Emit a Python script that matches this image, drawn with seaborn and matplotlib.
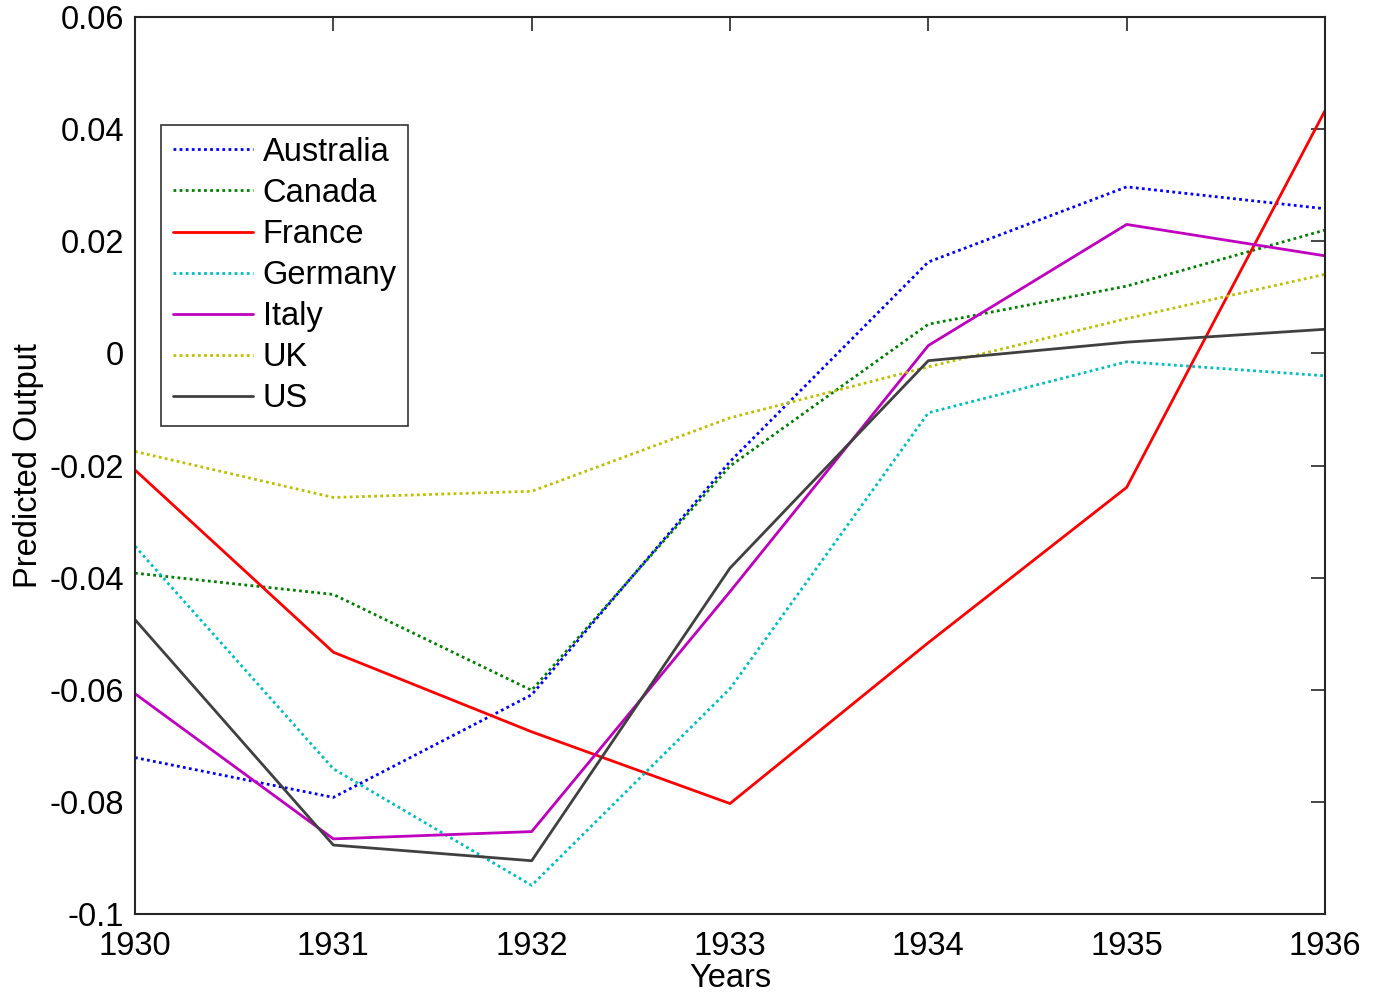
import matplotlib
matplotlib.use("Agg")
import matplotlib.pyplot as plt
import seaborn as sns
import pandas as pd

years = [1930, 1931, 1932, 1933, 1934, 1935, 1936]
australia = [-0.0721, -0.0792, -0.0609, -0.0193, 0.0163, 0.0297, 0.0258]
canada = [-0.0392, -0.0430, -0.0601, -0.0201, 0.0052, 0.0120, 0.0220]
france = [-0.0208, -0.0533, -0.0675, -0.0803, -0.0516, -0.0239, 0.0433]
germany = [-0.0344, -0.0741, -0.0949, -0.0598, -0.0106, -0.0015, -0.0040]
italy = [-0.0607, -0.0866, -0.0853, -0.0425, 0.0014, 0.0230, 0.0174]
uk = [-0.0175, -0.0257, -0.0246, -0.0115, -0.0024, 0.0062, 0.0141]
us = [-0.0475, -0.0877, -0.0905, -0.0383, -0.0013, 0.0020, 0.0043]

countries = ["Australia", "Canada", "France", "Germany", "Italy", "UK", "US"]
series = [australia, canada, france, germany, italy, uk, us]
colors = ["#0000ff", "#008000", "#ff0000", "#00bfbf", "#bf00bf", "#bfbf00", "#404040"]
dotted = [True, True, False, True, False, True, False]

ytick_vals = [0.06, 0.04, 0.02, 0, -0.02, -0.04, -0.06, -0.08, -0.1]
ytick_labels = ["0.06", "0.04", "0.02", "0", "-0.02", "-0.04", "-0.06", "-0.08", "-0.1"]

rows = []
for c, vals in zip(countries, series):
    for y, v in zip(years, vals):
        rows.append({"Year": y, "Value": v, "Country": c})
df = pd.DataFrame(rows)

sns.set_style("white")
plt.rcParams["font.family"] = ["Liberation Sans", "DejaVu Sans"]
plt.rcParams["axes.unicode_minus"] = False
plt.rcParams["text.color"] = "black"
plt.rcParams["axes.labelcolor"] = "black"

FS = 23.5

fig = plt.figure(figsize=(13.79, 9.98), dpi=100)
ax = fig.add_axes([135 / 1379, 84 / 998, 1190 / 1379, 897 / 998])

palette = dict(zip(countries, colors))
dashes = {c: ((1, 1.2) if d else "") for c, d in zip(countries, dotted)}
sns.lineplot(data=df, x="Year", y="Value", hue="Country", style="Country",
             hue_order=countries, style_order=countries,
             palette=palette, dashes=dashes, linewidth=2, ax=ax)

ax.set_xlim(1930, 1936)
ax.set_ylim(-0.1, 0.06)
ax.set_xticks(years)
ax.set_xticklabels([str(y) for y in years])
ax.set_yticks(ytick_vals)
ax.set_yticklabels(ytick_labels)
ax.tick_params(direction="in", length=10, width=1.2, labelsize=FS, top=True, right=True,
               color="#262626", labelcolor="black")
ax.tick_params(axis="x", pad=12)
ax.tick_params(axis="y", pad=8)
for s in ax.spines.values():
    s.set_visible(True)
    s.set_color("#262626")
    s.set_linewidth(1.5)

ax.set_xlabel("Years", fontsize=FS, labelpad=1, color="black")
ax.set_ylabel("Predicted Output", fontsize=FS, labelpad=4, color="black")

handles, labels = ax.get_legend_handles_labels()
leg = ax.legend(handles, labels, loc="upper left", bbox_to_anchor=(26 / 1190, 1 - 108 / 897),
                borderaxespad=0, fontsize=FS, frameon=True, fancybox=False,
                edgecolor="black", handlelength=2.45, handletextpad=0.3,
                labelspacing=0.31, borderpad=0.36, labelcolor="black")
leg.get_frame().set_linewidth(1.2)
for lh in leg.get_lines():
    lh.set_linewidth(2)

fig.savefig("out.png", dpi=100, facecolor="white")
